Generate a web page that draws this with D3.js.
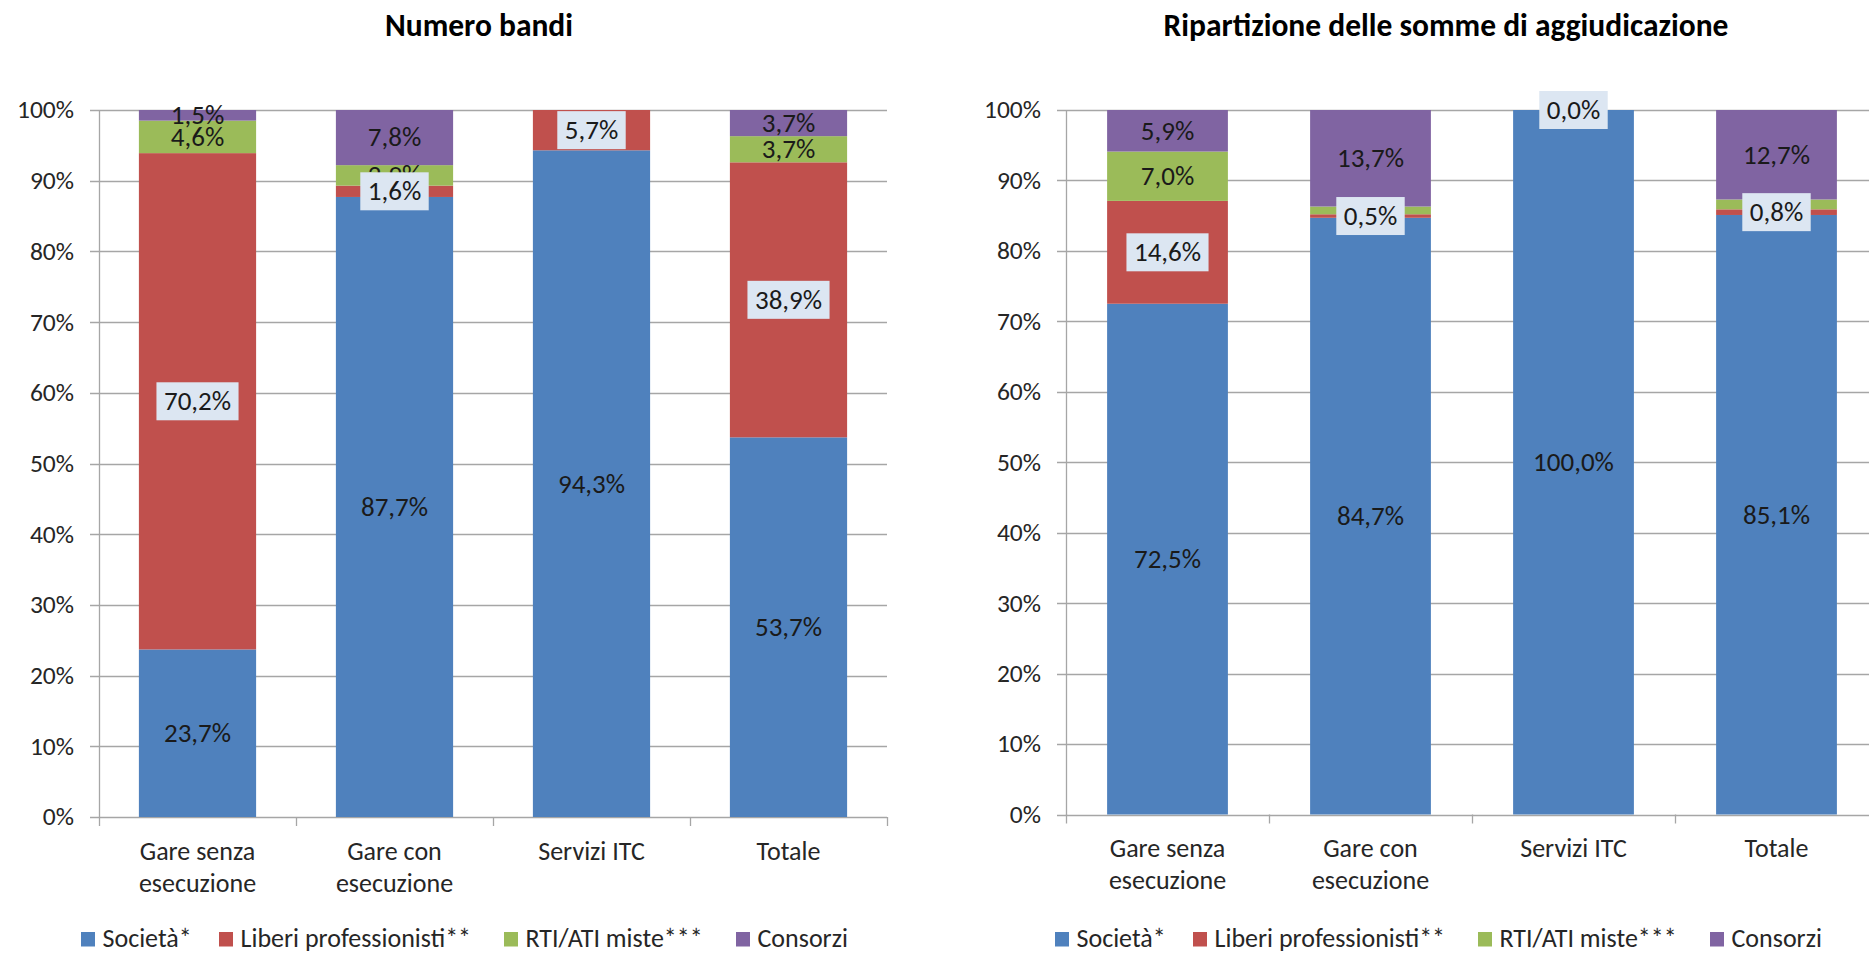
<!DOCTYPE html>
<html>
<head>
<meta charset="utf-8">
<script src="https://cdn.jsdelivr.net/npm/d3@7"></script>
<style>
  body { margin: 0; background: #fff; }
  svg { display: block; font-family: Carlito, Calibri, Lato, sans-serif; }
</style>
</head>
<body>
<svg id="chart" width="1869" height="953"></svg>
<script>
// --- data ---
const categories = [["Gare senza", "esecuzione"], ["Gare con", "esecuzione"], ["Servizi ITC"], ["Totale"]];
const seriesNames = ["Società*", "Liberi professionisti**", "RTI/ATI miste***", "Consorzi"];
const seriesColors = ["#4f81bd", "#c0504d", "#9bbb59", "#8064a2"];
const yTicks = [0, 10, 20, 30, 40, 50, 60, 70, 80, 90, 100];

// Numero bandi (%)
const bandiSocieta   = [23.7, 87.7, 94.3, 53.7];
const bandiLiberi    = [70.2, 1.6, 5.7, 38.9];
const bandiRti       = [4.6, 2.9, null, 3.7];
const bandiConsorzi  = [1.5, 7.8, null, 3.7];

// Ripartizione delle somme di aggiudicazione (%)
const sommeSocieta   = [72.5, 84.7, 100.0, 85.1];
const sommeLiberi    = [14.6, 0.5, 0.0, 0.8];
const sommeRti       = [7.0, 1.1, 0.0, 1.4];
const sommeConsorzi  = [5.9, 13.7, 0.0, 12.7];

const svg = d3.select("#chart");

// formato italiano: virgola decimale
const it = d3.formatLocale({ decimal: ",", thousands: ".", grouping: [3], currency: ["", "€"] });
const pct = v => it.format(".1f")(v) + "%";

const GRID = "#a6a6a6";

function drawChart(cfg) {
  const g = svg.append("g");
  const values = [cfg.s0, cfg.s1, cfg.s2, cfg.s3];

  const x = d3.scaleBand().domain(d3.range(categories.length))
    .range([cfg.axisX, cfg.endX])
    .paddingInner(0.405).paddingOuter(0.2025);
  const y = d3.scaleLinear().domain([0, 100]).range([cfg.y0, cfg.y100]);
  const step = x.step();

  // gridlines
  g.selectAll(".grid").data(yTicks).join("line")
    .attr("x1", cfg.axisX - 9).attr("x2", cfg.endX)
    .attr("y1", d => Math.round(y(d)) + 0.5).attr("y2", d => Math.round(y(d)) + 0.5)
    .attr("stroke", GRID).attr("stroke-width", 1.3);

  // y tick labels
  g.selectAll(".ylab").data(yTicks).join("text")
    .attr("x", cfg.axisX - 25).attr("y", d => y(d))
    .attr("dy", "0.33em").attr("text-anchor", "end")
    .style("font-size", "25.5px").style("fill", "#262626")
    .text(d => d + "%");

  // y axis line
  g.append("line")
    .attr("x1", cfg.axisX + 0.5).attr("x2", cfg.axisX + 0.5)
    .attr("y1", cfg.y0 + 0.5).attr("y2", y(100))
    .attr("stroke", GRID).attr("stroke-width", 1.3);

  // x category tick marks
  g.selectAll(".xtick").data(d3.range(categories.length + 1)).join("line")
    .attr("x1", i => Math.round(cfg.axisX + i * step) + 0.5)
    .attr("x2", i => Math.round(cfg.axisX + i * step) + 0.5)
    .attr("y1", cfg.y0).attr("y2", cfg.y0 + 9)
    .attr("stroke", GRID).attr("stroke-width", 1.3);

  // stacked bars
  const rows = categories.map((c, i) => {
    const r = { i };
    values.forEach((s, k) => r[k] = s[i] == null ? 0 : s[i]);
    return r;
  });
  const stack = d3.stack().keys([0, 1, 2, 3])(rows);

  stack.forEach((layer, k) => {
    g.append("g").selectAll("rect").data(layer).join("rect")
      .attr("x", d => x(d.data.i)).attr("width", x.bandwidth())
      .attr("y", d => y(d[1])).attr("height", d => y(d[0]) - y(d[1]))
      .attr("fill", seriesColors[k]);
  });

  // data labels: plain ones first, boxed (Liberi professionisti) on top
  const cx = i => x(i) + x.bandwidth() / 2;
  [0, 2, 3, 1].forEach(k => {
    stack[k].forEach((d, i) => {
      if (values[k][i] == null) return;
      const ly = y((d[0] + d[1]) / 2);
      const lg = g.append("g");
      const t = lg.append("text")
        .attr("x", cx(i)).attr("y", ly).attr("dy", "0.33em")
        .attr("text-anchor", "middle")
        .style("font-size", "27px").style("fill", "#1a1a1a")
        .text(pct(values[k][i]));
      if (k === 1) {
        const b = t.node().getBBox();
        lg.insert("rect", "text")
          .attr("x", b.x - 7.5).attr("width", b.width + 15)
          .attr("y", ly - 19).attr("height", 38)
          .attr("fill", "#dce6f2");
      }
    });
  });

  // category labels
  categories.forEach((lines, i) => {
    lines.forEach((ln, j) => {
      g.append("text")
        .attr("x", cx(i)).attr("y", cfg.catY + j * 32)
        .attr("text-anchor", "middle")
        .style("font-size", "26px").style("fill", "#262626")
        .text(ln);
    });
  });

  // title
  g.append("text")
    .attr("x", cfg.titleX).attr("y", 36)
    .attr("text-anchor", "middle")
    .style("font-size", "31.5px").style("font-weight", "bold").style("fill", "#000")
    .text(cfg.title);

  // legend
  const offs = [0, 138, 423, 655];
  seriesNames.forEach((name, k) => {
    const lx = cfg.legendX + offs[k];
    g.append("rect")
      .attr("x", lx).attr("y", 932).attr("width", 14).attr("height", 14.5)
      .attr("fill", seriesColors[k]);
    g.append("text")
      .attr("x", lx + 21.5).attr("y", 947)
      .style("font-size", "26px").style("fill", "#262626")
      .text(name);
  });
}

drawChart({
  title: "Numero bandi", s0: bandiSocieta, s1: bandiLiberi, s2: bandiRti, s3: bandiConsorzi,
  axisX: 99, endX: 887, y0: 817, y100: 110, catY: 860, titleX: 479, legendX: 81
});
drawChart({
  title: "Ripartizione delle somme di aggiudicazione",
  s0: sommeSocieta, s1: sommeLiberi, s2: sommeRti, s3: sommeConsorzi,
  axisX: 1066, endX: 1878, y0: 814.5, y100: 110, catY: 857, titleX: 1446, legendX: 1055
});
</script>
</body>
</html>
